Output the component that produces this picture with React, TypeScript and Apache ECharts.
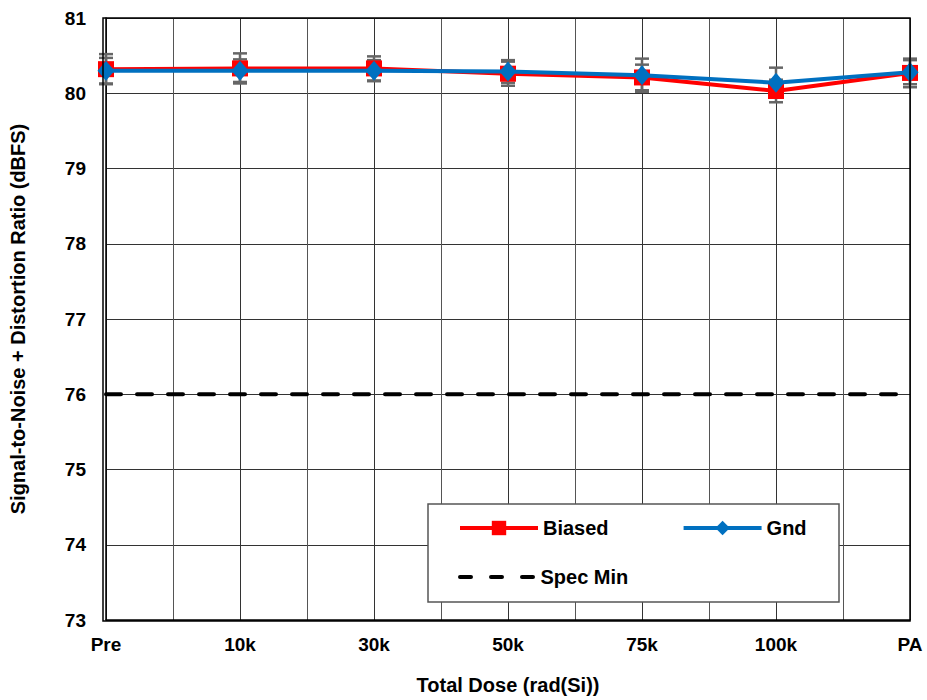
import React, { useEffect, useRef } from "react";
import * as echarts from "echarts";

// Dose steps along the x axis
const doseLabels = ["Pre", "10k", "30k", "50k", "75k", "100k", "PA"];

// SINAD (dBFS) means per dose step
const biasedValues = [80.32, 80.33, 80.33, 80.26, 80.21, 80.03, 80.27];
const gndValues = [80.3, 80.3, 80.3, 80.29, 80.24, 80.14, 80.28];

// Half-width of the error bars (dBFS)
const biasedErr = [0.2, 0.2, 0.16, 0.16, 0.17, 0.15, 0.19];
const gndErr = [0.17, 0.15, 0.14, 0.15, 0.22, 0.2, 0.16];

// Specification minimum
const specMin = 76;

const yTicks = { min: 73, max: 81, step: 1 };

const FONT = "'Liberation Sans', Arial, Helvetica, sans-serif";

function errorSeries(name: string, values: number[], errs: number[]) {
  const data = values.map((v, i) => [i, v - errs[i], v + errs[i]]);
  return {
    name,
    type: "custom",
    z: 1,
    silent: true,
    data,
    renderItem: (_params: any, api: any) => {
      const x = api.value(0);
      const lo = api.coord([x, api.value(1)]);
      const hi = api.coord([x, api.value(2)]);
      const hw = 7;
      const style = { stroke: "#666666", lineWidth: 2.5 };
      return {
        type: "group",
        children: [
          { type: "line", shape: { x1: lo[0], y1: lo[1], x2: hi[0], y2: hi[1] }, style },
          { type: "line", shape: { x1: lo[0] - hw, y1: lo[1], x2: lo[0] + hw, y2: lo[1] }, style },
          { type: "line", shape: { x1: hi[0] - hw, y1: hi[1], x2: hi[0] + hw, y2: hi[1] }, style },
        ],
      };
    },
  };
}

// Three round-ended dashes for the spec line's legend key
const dashIcon =
  "path://M2,0h11a2,2 0 0 1 0,4h-11a2,2 0 0 1 0,-4z M33,0h11a2,2 0 0 1 0,4h-11a2,2 0 0 1 0,-4z M64,0h11a2,2 0 0 1 0,4h-11a2,2 0 0 1 0,-4z";

export default function App() {
  const ref = useRef<HTMLDivElement>(null);

  useEffect(() => {
    if (!ref.current) return;
    const chart = echarts.init(ref.current, null, { renderer: "svg" });

    const toPairs = (vals: number[]) => vals.map((v, i) => [i, v]);
    const legendText = { fontFamily: FONT, fontWeight: "bold", fontSize: 20, color: "#000" };

    chart.setOption({
      animation: false,
      backgroundColor: "#ffffff",
      textStyle: { fontFamily: FONT },
      grid: { left: 103, right: 17, top: 18, bottom: 79, show: false },
      xAxis: {
        type: "value",
        min: 0,
        max: doseLabels.length - 1,
        interval: 1,
        name: "Total Dose (rad(Si))",
        nameLocation: "middle",
        nameGap: 55,
        nameTextStyle: { fontFamily: FONT, fontWeight: "bold", fontSize: 20, color: "#000" },
        axisLine: { show: true, onZero: false, lineStyle: { color: "#000", width: 1.5 } },
        axisTick: { show: false },
        minorTick: { show: false, splitNumber: 2 },
        axisLabel: {
          margin: 15,
          fontFamily: FONT,
          fontWeight: "bold",
          fontSize: 19,
          color: "#000",
          formatter: (v: number) => doseLabels[Math.round(v)] ?? "",
        },
        splitLine: { show: true, lineStyle: { color: "#333", width: 1 } },
        minorSplitLine: { show: true, lineStyle: { color: "#555", width: 1 } },
      },
      yAxis: {
        type: "value",
        min: yTicks.min,
        max: yTicks.max,
        interval: yTicks.step,
        name: "Signal-to-Noise + Distortion Ratio (dBFS)",
        nameLocation: "middle",
        nameGap: 78,
        nameTextStyle: { fontFamily: FONT, fontWeight: "bold", fontSize: 20, color: "#000" },
        axisLine: { show: true, lineStyle: { color: "#000", width: 1.5 } },
        axisTick: { show: false },
        axisLabel: {
          margin: 20,
          fontFamily: FONT,
          fontWeight: "bold",
          fontSize: 19,
          color: "#000",
        },
        splitLine: { show: true, lineStyle: { color: "#333", width: 1 } },
      },
      graphic: [
        {
          type: "rect",
          z: 100,
          shape: { x: 103, y: 18, width: 807, height: 603 },
          style: { fill: "none", stroke: "#000", lineWidth: 1.5 },
          silent: true,
        },
        {
          type: "rect",
          z: 100,
          shape: { x: 428, y: 504, width: 411, height: 98 },
          style: { fill: "#ffffff", stroke: "#555", lineWidth: 1.5 },
          silent: true,
        },
      ],
      legend: [
        {
          data: ["Biased", "Gnd"],
          left: 458,
          top: 518,
          padding: 0,
          z: 110,
          itemWidth: 78,
          itemHeight: 18,
          itemGap: 73,
          lineStyle: { width: 4 },
          textStyle: legendText,
        },
        {
          data: [{ name: "Spec Min", icon: dashIcon }],
          left: 458,
          top: 567,
          padding: 0,
          z: 110,
          itemWidth: 78,
          itemHeight: 4,
          textStyle: { ...legendText, padding: [16, 0, 16, 0] },
        },
      ],
      series: [
        {
          name: "Spec Min",
          type: "line",
          z: 2,
          data: toPairs(doseLabels.map(() => specMin)),
          symbol: "none",
          lineStyle: { color: "#000", width: 4, type: [15, 16], cap: "round" },
          itemStyle: { color: "#000" },
        },
        errorSeries("Biased err", biasedValues, biasedErr),
        errorSeries("Gnd err", gndValues, gndErr),
        {
          name: "Biased",
          type: "line",
          z: 3,
          data: toPairs(biasedValues),
          symbol: "rect",
          symbolSize: 16,
          lineStyle: { color: "#ff0000", width: 4 },
          itemStyle: { color: "#ff0000" },
        },
        {
          name: "Gnd",
          type: "line",
          z: 4,
          data: toPairs(gndValues),
          symbol: "diamond",
          symbolSize: [17, 20],
          lineStyle: { color: "#0070c0", width: 4 },
          itemStyle: { color: "#0070c0" },
        },
      ],
    });

    return () => chart.dispose();
  }, []);

  return <div ref={ref} style={{ width: 927, height: 700, position: "absolute", left: 0, top: 0 }} />;
}
